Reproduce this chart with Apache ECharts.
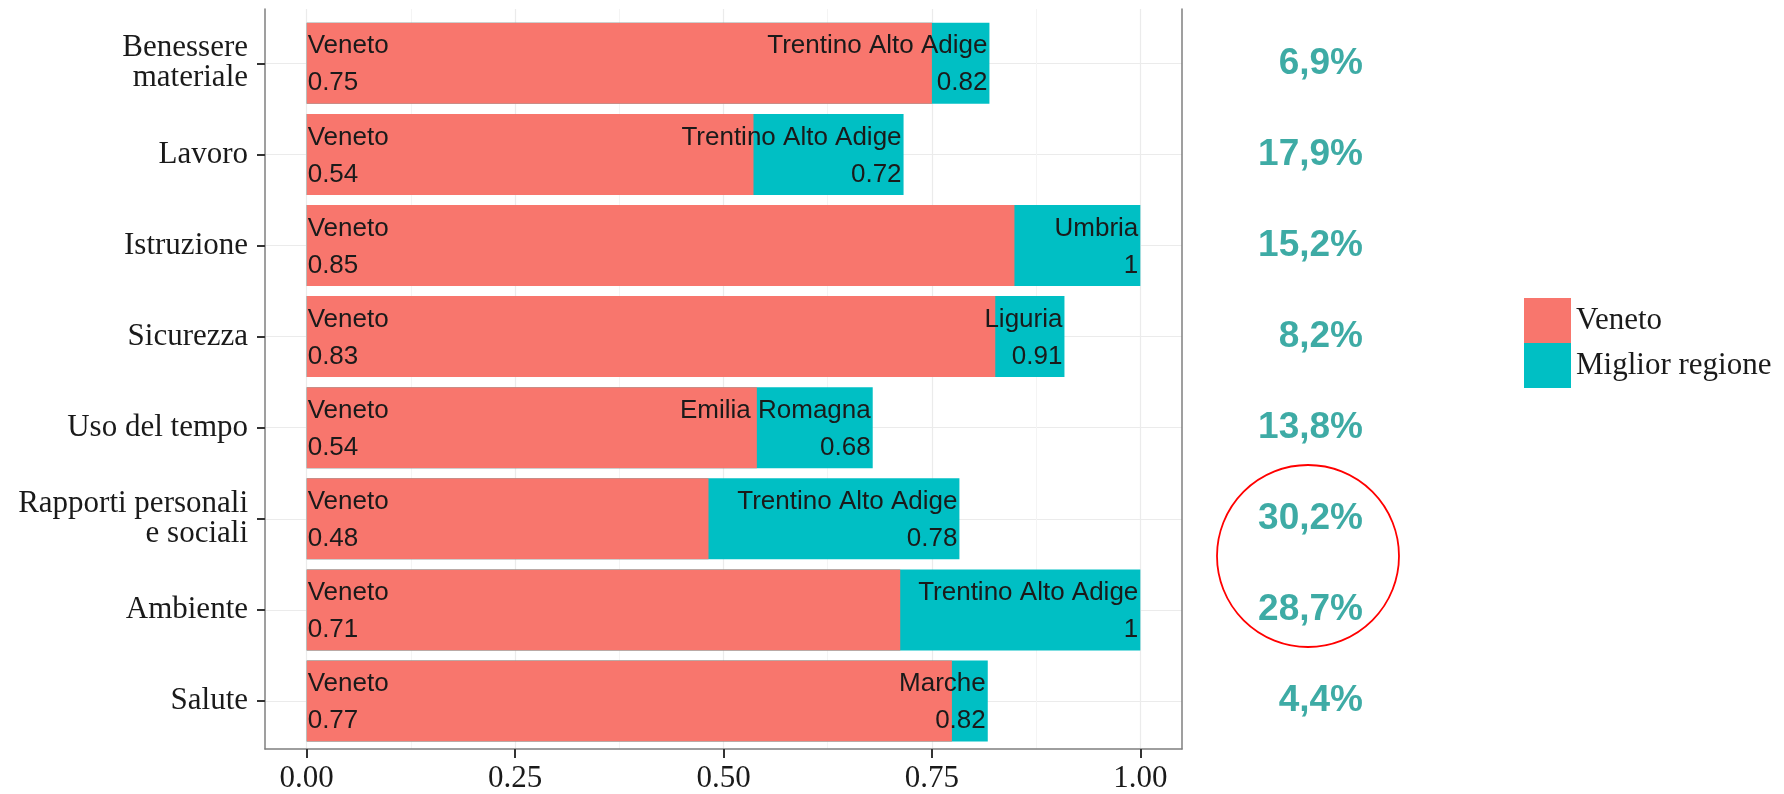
<!DOCTYPE html>
<html>
<head>
<meta charset="utf-8">
<script src="https://cdn.jsdelivr.net/npm/echarts@6/dist/echarts.min.js"></script>
<style>
  html, body { margin: 0; padding: 0; background: #ffffff; }
  #chart { width: 1784px; height: 794px; }
</style>
</head>
<body>
<div id="chart"></div>
<script>
const categories = ['Benessere\nmateriale', 'Lavoro', 'Istruzione', 'Sicurezza', 'Uso del tempo', 'Rapporti personali\ne sociali', 'Ambiente', 'Salute'];
const venetoValues = [0.75, 0.536, 0.849, 0.826, 0.54, 0.482, 0.712, 0.774];
const bestValues = [0.819, 0.716, 1.0, 0.909, 0.679, 0.783, 1.0, 0.817];
const bestRegions = ['Trentino Alto Adige', 'Trentino Alto Adige', 'Umbria', 'Liguria', 'Emilia Romagna', 'Trentino Alto Adige', 'Trentino Alto Adige', 'Marche'];
const gapPercent = [6.9, 17.9, 15.2, 8.2, 13.8, 30.2, 28.7, 4.4];
const xTicks = [0, 0.25, 0.5, 0.75, 1];
const xMinorTicks = [0.125, 0.375, 0.625, 0.875];

const RED = '#F8766D', CYAN = '#00BFC4', TEAL = '#0e968f';
const SERIF = 'Liberation Serif', SANS = 'Liberation Sans';
const fmt = v => String(Math.round(v * 100) / 100);
const fmtPct = v => v.toFixed(1).replace('.', ',') + '%';

const chart = echarts.init(document.getElementById('chart'), null, { renderer: 'canvas' });

const option = {
  backgroundColor: '#ffffff',
  animation: false,
  grid: [
    { left: 265, right: 602, top: 63.3, bottom: 93 },          // data grid (category centres)
    { left: 265, right: 602, top: 9, bottom: 40 },             // panel frame
    { left: 1180, right: 421, top: 63.3, bottom: 93 }          // percentage column
  ],
  xAxis: [
    { type: 'value', gridIndex: 0, min: -0.05, max: 1.05, show: false },
    {
      type: 'value', gridIndex: 1, min: -0.05, max: 1.05,
      axisLine: { show: true, onZero: false, lineStyle: { color: '#7f7f7f', width: 1.5 } },
      axisTick: { show: true, customValues: xTicks, length: 9, lineStyle: { color: '#333333', width: 2 } },
      axisLabel: { show: true, customValues: xTicks, formatter: v => v.toFixed(2), fontFamily: SERIF, fontSize: 31, color: '#1a1a1a', margin: 14 },
      splitLine: { show: true, lineStyle: { color: '#ebebeb', width: 1.2 } }
    },
    {
      type: 'value', gridIndex: 1, min: -0.05, max: 1.05,
      axisLine: { show: false },
      axisTick: { show: false, customValues: xMinorTicks },
      axisLabel: { show: false, customValues: xMinorTicks },
      splitLine: { show: true, lineStyle: { color: '#f4f4f4', width: 1 } }
    },
    { type: 'value', gridIndex: 2, min: 0, max: 1, show: false }
  ],
  yAxis: [
    {
      type: 'category', gridIndex: 0, data: categories, inverse: true, boundaryGap: false,
      axisLine: { show: false, onZero: false },
      axisTick: { show: true, length: 8, lineStyle: { color: '#333333', width: 2 } },
      axisLabel: { fontFamily: SERIF, fontSize: 31, color: '#1a1a1a', margin: 17, lineHeight: 30, align: 'right' },
      splitLine: { show: true, lineStyle: { color: '#ebebeb', width: 1.2 } }
    },
    {
      type: 'value', gridIndex: 1, min: 0, max: 1, position: 'left',
      axisLine: { show: true, onZero: false, lineStyle: { color: '#7f7f7f', width: 1.5 } },
      axisTick: { show: false }, axisLabel: { show: false }, splitLine: { show: false }
    },
    {
      type: 'value', gridIndex: 1, min: 0, max: 1, position: 'right',
      axisLine: { show: true, onZero: false, lineStyle: { color: '#7f7f7f', width: 1.5 } },
      axisTick: { show: false }, axisLabel: { show: false }, splitLine: { show: false }
    },
    { type: 'category', gridIndex: 2, data: categories, inverse: true, boundaryGap: false, show: false }
  ],
  legend: {
    data: ['Veneto', 'Miglior regione'],
    orient: 'vertical', left: 1524, top: 298,
    itemWidth: 47, itemHeight: 45, itemGap: 0, padding: 0,
    icon: 'rect',
    textStyle: { fontFamily: SERIF, fontSize: 31, color: '#1a1a1a' },
    selectedMode: false
  },
  series: [
    {
      name: 'Miglior regione', type: 'bar', xAxisIndex: 0, yAxisIndex: 0,
      data: bestValues, barWidth: 81, barGap: '-100%', clip: false,
      itemStyle: { color: CYAN }, silent: true
    },
    {
      name: 'Veneto', type: 'bar', xAxisIndex: 0, yAxisIndex: 0,
      data: venetoValues, barWidth: 81, barGap: '-100%', clip: false,
      itemStyle: { color: RED }, silent: true,
      label: {
        show: true, position: 'insideLeft', distance: 1, offset: [0, 1.5],
        formatter: p => 'Veneto\n' + fmt(p.value),
        fontFamily: SANS, fontSize: 26, color: '#1a1a1a', lineHeight: 37, align: 'left'
      }
    },
    {
      name: 'regionLabels', type: 'bar', xAxisIndex: 0, yAxisIndex: 0,
      data: bestValues, barWidth: 81, barGap: '-100%', clip: false, z: 5,
      itemStyle: { color: 'rgba(0,0,0,0)' }, silent: true,
      label: {
        show: true, position: 'insideRight', distance: 2, offset: [0, 1.5],
        formatter: p => bestRegions[p.dataIndex] + '\n' + fmt(p.value),
        fontFamily: SANS, fontSize: 26, color: '#1a1a1a', lineHeight: 37, align: 'right'
      }
    },
    {
      name: 'gap', type: 'scatter', xAxisIndex: 3, yAxisIndex: 3,
      data: gapPercent.map((v, i) => [1, i]), symbolSize: 0, silent: true,
      label: {
        show: true, position: 'left', distance: 0,
        formatter: p => fmtPct(gapPercent[p.dataIndex]),
        fontFamily: SANS, fontWeight: 'bold', fontSize: 37, color: TEAL
      }
    }
  ],
  graphic: [
    { type: 'circle', shape: { cx: 1308, cy: 556, r: 91 }, style: { fill: 'none', stroke: '#ff0000', lineWidth: 1.8 }, z: 10 }
  ]
};

chart.setOption(option);
</script>
</body>
</html>
